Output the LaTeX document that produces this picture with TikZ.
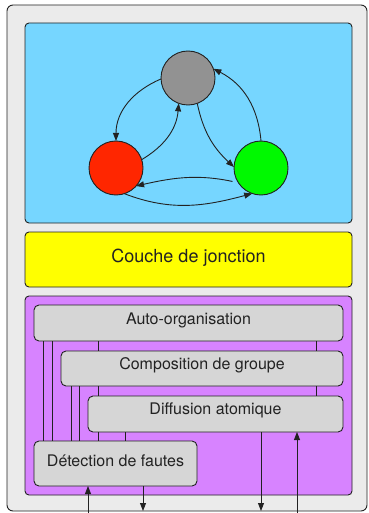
\documentclass[tikz,border=0pt]{standalone}
\usepackage{fontspec}
\setmainfont{TeX Gyre Heros}
\usetikzlibrary{arrows.meta,calc}
\definecolor{mercury}{HTML}{EBEBEB}
\definecolor{sky}{HTML}{76D6FF}
\definecolor{lemon}{HTML}{FFFF00}
\definecolor{lavender}{HTML}{D783FF}
\definecolor{silver}{HTML}{D6D6D6}
\definecolor{nickel}{HTML}{929292}
\definecolor{maraschino}{HTML}{FF2600}
\definecolor{spring}{HTML}{00F900}
\definecolor{ink}{HTML}{222222}
\begin{document}
\begin{tikzpicture}[x=1pt,y=1pt,line width=0.9pt,
  panel/.style={draw=ink, rounded corners=4pt, anchor=north west, inner sep=0pt, outer sep=0pt},
  layer/.style={panel, fill=silver, rounded corners=5pt},
  state/.style={circle, draw=ink, minimum size=54pt, inner sep=0pt, outer sep=0pt},
  lbl/.style={font=\fontsize{16}{19}\selectfont, text=ink, anchor=base, inner sep=0pt},
  flow/.style={draw=ink, -{Triangle[length=8pt,width=6pt]}},
  wire/.style={draw=ink}]
\useasboundingbox (0,0) rectangle (368,-513);

% outer frame and the three stacked panels
\node[panel, fill=mercury, rounded corners=6pt, minimum width=360pt, minimum height=506pt] (frame) at (7,-5) {};
\node[panel, fill=sky, minimum width=327pt, minimum height=200pt] (top) at (25,-23) {};
\node[panel, fill=lemon, minimum width=327pt, minimum height=55pt] (join) at (25,-232) {};
\node[lbl, font=\fontsize{18}{21}\selectfont] (tjoin) at (188.5,-262.3) {Couche de jonction};
\node[panel, fill=lavender, minimum width=327pt, minimum height=199pt] (stack) at (25,-296) {};

% state machine
\node[state, fill=nickel] (gray) at (188,-78) {};
\node[state, fill=maraschino] (red) at (116,-168) {};
\node[state, fill=spring] (green) at (261,-168) {};

\draw[flow] (gray.182) to[out=203,in=90] (red.north);
\draw[flow] (red.18) to[out=31,in=-95] (gray.250);
\draw[flow] (gray.290) to[out=-78,in=137] (green.178);
\draw[flow] (green.north) to[out=95,in=-27] (gray.20);
\draw[flow, shorten <=6pt] (green.213) to[out=168,in=13] (red.-42);
\draw[flow] (red.288) to[out=-21,in=195] (green.251);

% protocol layers
\node[layer, minimum width=309pt, minimum height=36pt] (auto) at (34,-305) {};
\node[lbl] (tauto) at (188.5,-324.3) {Auto-organisation};
\node[layer, minimum width=282pt, minimum height=35pt] (comp) at (61,-351) {};
\node[lbl] (tcomp) at (202,-369) {Composition de groupe};
\node[layer, minimum width=255pt, minimum height=36pt] (diff) at (88,-396) {};
\node[lbl] (tdiff) at (215.5,-414) {Diffusion atomique};
\node[layer, minimum width=163pt, minimum height=45pt] (det) at (34,-441) {};
\node[lbl] (tdet) at (115.5,-466) {Détection de fautes};

% columns of the vertical links
\foreach \c in {43,52,71,79,88,98,125,143,261,297,316}
  \coordinate (x\c) at (\c,0);

\draw[wire] (auto.south -| x43) -- (det.north -| x43);
\draw[wire] (auto.south -| x52) -- (det.north -| x52);
\draw[wire] (comp.south -| x71) -- (det.north -| x71);
\draw[wire] (comp.south -| x79) -- (det.north -| x79);
\draw[wire] (auto.south -| x98) -- (comp.north -| x98);
\draw[wire] (comp.south -| x98) -- (diff.north -| x98);
\draw[wire] (diff.south -| x98) -- (det.north -| x98);
\draw[wire] (diff.south -| x125) -- (det.north -| x125);
\draw[wire] (auto.south -| x316) -- (comp.north -| x316);
\draw[wire] (comp.south -| x316) -- (diff.north -| x316);

% external inputs and outputs
\coordinate (inDet) at (88,-513);
\coordinate (outDet) at (143,-511);
\coordinate (outDiff) at (261,-511);
\coordinate (inDiff) at (297,-513);
\draw[flow] (inDet) -- (det.south -| x88);
\draw[flow] (det.south -| x143) -- (outDet);
\draw[flow] (diff.south -| x261) -- (outDiff);
\draw[flow] (inDiff) -- (diff.south -| x297);
\end{tikzpicture}
\end{document}
